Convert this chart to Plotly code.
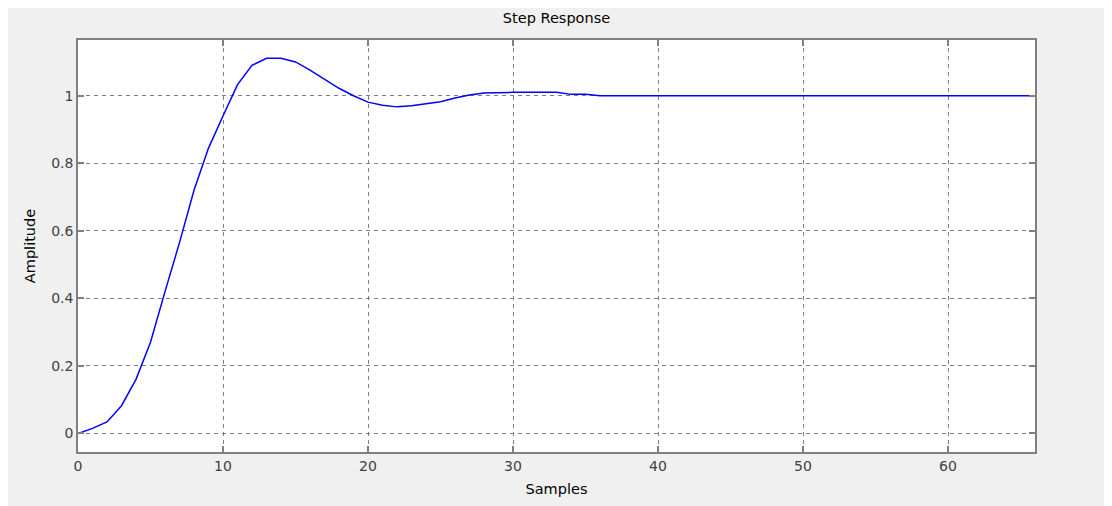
import plotly.graph_objects as go

samples = list(range(0, 67))
amplitude = [
    0.0, 0.015, 0.034, 0.082, 0.16, 0.27, 0.42, 0.565, 0.72, 0.845,
    0.94, 1.033, 1.09, 1.111, 1.111, 1.10, 1.076, 1.048, 1.022, 1.0,
    0.981, 0.972, 0.967, 0.970, 0.977, 0.982, 0.993, 1.002, 1.008, 1.010,
    1.010, 1.010, 1.010, 1.010, 1.004, 1.004,
] + [1.0] * 31

x_ticks = [0, 10, 20, 30, 40, 50, 60]
y_ticks = [0, 0.2, 0.4, 0.6, 0.8, 1]
y_tick_labels = ["0", "0.2", "0.4", "0.6", "0.8", "1"]

FONT = "DejaVu Sans, Verdana, sans-serif"

fig = go.Figure()
fig.add_trace(go.Scatter(x=samples, y=amplitude, mode="lines",
                         line=dict(color="#0000ff", width=1.5),
                         showlegend=False, hoverinfo="skip"))

axis_common = dict(
    showline=True, linecolor="#808080", linewidth=1.5, mirror="ticks",
    ticks="inside", ticklen=6, tickcolor="#808080", tickwidth=1.5,
    showgrid=True, gridcolor="#808080", griddash="4px,4px", gridwidth=1,
    zeroline=False, tickfont=dict(family=FONT, size=14, color="#404040"),
)

fig.update_xaxes(range=[0, 66], tickvals=x_ticks, **axis_common,
                 title=dict(text="Samples", standoff=11,
                            font=dict(family=FONT, size=14.5, color="#000000")))
fig.update_yaxes(range=[-0.055, 1.165], tickvals=y_ticks, ticktext=y_tick_labels, **axis_common,
                 title=dict(text="Amplitude", standoff=12,
                            font=dict(family=FONT, size=14.5, color="#000000")))

fig.update_layout(
    width=1104, height=498,
    margin=dict(l=70, r=77, t=32, b=54, pad=0),
    paper_bgcolor="#f0f0f0", plot_bgcolor="#ffffff",
    title=dict(text="Step Response", x=0.5, xref="paper", y=1 - 10 / 498, yanchor="middle",
               font=dict(family=FONT, size=14.5, color="#000000")),
)

fig.write_html("out.html")
